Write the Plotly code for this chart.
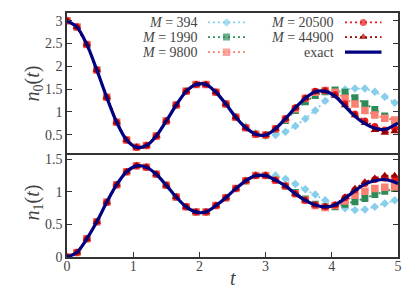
import plotly.graph_objects as go

# ---------------- data ----------------
t_pts = [0.0, 0.15, 0.3, 0.45, 0.6, 0.75, 0.9, 1.05, 1.2, 1.35, 1.5, 1.65, 1.8, 1.95,
         2.1, 2.25, 2.4, 2.55, 2.7, 2.85, 3.0, 3.15, 3.3, 3.45, 3.6, 3.75, 3.9, 4.05,
         4.2, 4.35, 4.5, 4.65, 4.8, 4.95]
t_exact = [0.0, 0.15, 0.3, 0.45, 0.6, 0.75, 0.9, 1.05, 1.2, 1.35, 1.5, 1.65, 1.8, 1.95,
           2.1, 2.25, 2.4, 2.55, 2.7, 2.85, 3.0, 3.15, 3.3, 3.45, 3.6, 3.75, 3.9, 4.05,
           4.2, 4.35, 4.5, 4.65, 4.8, 4.95, 5.0]

n0_exact = [3.00, 2.86, 2.48, 1.92, 1.32, 0.77, 0.38, 0.22, 0.26, 0.47, 0.80, 1.15, 1.45, 1.60,
            1.60, 1.43, 1.17, 0.88, 0.65, 0.51, 0.49, 0.63, 0.85, 1.09, 1.30, 1.44, 1.45, 1.34,
            1.12, 0.90, 0.74, 0.64, 0.61, 0.71, 0.75]
n1_exact = [0.00, 0.07, 0.28, 0.54, 0.84, 1.11, 1.31, 1.40, 1.38, 1.27, 1.10, 0.92, 0.77, 0.69,
            0.69, 0.79, 0.91, 1.05, 1.17, 1.25, 1.25, 1.18, 1.09, 0.97, 0.87, 0.80, 0.77, 0.80,
            0.90, 1.02, 1.12, 1.17, 1.19, 1.15, 1.13]

n0_M394 = [3.00, 2.86, 2.48, 1.92, 1.32, 0.77, 0.38, 0.22, 0.26, 0.47, 0.80, 1.15, 1.45, 1.60,
           1.60, 1.43, 1.17, 0.89, 0.68, 0.53, 0.47, 0.49, 0.56, 0.69, 0.85, 1.03, 1.24, 1.40,
           1.49, 1.51, 1.51, 1.44, 1.33, 1.20]
n0_M1990 = [3.00, 2.86, 2.48, 1.92, 1.32, 0.77, 0.38, 0.22, 0.26, 0.47, 0.80, 1.15, 1.45, 1.60,
            1.60, 1.43, 1.17, 0.88, 0.65, 0.51, 0.49, 0.62, 0.81, 1.03, 1.22, 1.36, 1.44, 1.48,
            1.43, 1.31, 1.18, 1.05, 0.91, 0.80]
n0_M9800 = [3.00, 2.86, 2.48, 1.92, 1.32, 0.77, 0.38, 0.22, 0.26, 0.47, 0.80, 1.15, 1.45, 1.60,
            1.60, 1.43, 1.17, 0.88, 0.65, 0.51, 0.49, 0.63, 0.84, 1.07, 1.30, 1.43, 1.47, 1.43,
            1.30, 1.17, 1.03, 0.93, 0.86, 0.82]
n0_M20500 = [3.00, 2.86, 2.48, 1.92, 1.32, 0.77, 0.38, 0.22, 0.26, 0.47, 0.80, 1.15, 1.45, 1.60,
             1.60, 1.43, 1.17, 0.88, 0.65, 0.51, 0.49, 0.63, 0.85, 1.09, 1.30, 1.45, 1.47, 1.38,
             1.18, 0.95, 0.80, 0.68, 0.60, 0.64]
n0_M44900 = [3.00, 2.86, 2.48, 1.92, 1.32, 0.77, 0.38, 0.22, 0.26, 0.47, 0.80, 1.15, 1.45, 1.60,
             1.60, 1.43, 1.17, 0.88, 0.65, 0.51, 0.49, 0.63, 0.85, 1.09, 1.30, 1.44, 1.45, 1.35,
             1.14, 0.92, 0.75, 0.60, 0.54, 0.57]

n1_M394 = [0.00, 0.07, 0.28, 0.54, 0.84, 1.11, 1.31, 1.40, 1.38, 1.27, 1.10, 0.92, 0.77, 0.69,
           0.69, 0.79, 0.91, 1.05, 1.17, 1.26, 1.26, 1.25, 1.20, 1.12, 1.04, 0.96, 0.87, 0.79,
           0.75, 0.72, 0.73, 0.77, 0.82, 0.87]
n1_M1990 = [0.00, 0.07, 0.28, 0.54, 0.84, 1.11, 1.31, 1.40, 1.38, 1.27, 1.10, 0.92, 0.77, 0.69,
            0.69, 0.79, 0.91, 1.05, 1.17, 1.25, 1.25, 1.18, 1.09, 0.99, 0.89, 0.81, 0.77, 0.77,
            0.81, 0.85, 0.90, 0.96, 1.01, 1.05]
n1_M9800 = [0.00, 0.07, 0.28, 0.54, 0.84, 1.11, 1.31, 1.40, 1.38, 1.27, 1.10, 0.92, 0.77, 0.69,
            0.69, 0.79, 0.91, 1.05, 1.17, 1.25, 1.25, 1.18, 1.09, 0.97, 0.87, 0.79, 0.76, 0.79,
            0.86, 0.95, 1.01, 1.05, 1.07, 1.08]
n1_M20500 = [0.00, 0.07, 0.28, 0.54, 0.84, 1.11, 1.31, 1.40, 1.38, 1.27, 1.10, 0.92, 0.77, 0.69,
             0.69, 0.79, 0.91, 1.05, 1.17, 1.25, 1.25, 1.18, 1.09, 0.97, 0.87, 0.80, 0.77, 0.80,
             0.91, 1.03, 1.13, 1.19, 1.21, 1.19]
n1_M44900 = [0.00, 0.07, 0.28, 0.54, 0.84, 1.11, 1.31, 1.40, 1.38, 1.27, 1.10, 0.92, 0.77, 0.69,
             0.69, 0.79, 0.91, 1.05, 1.17, 1.25, 1.25, 1.18, 1.09, 0.97, 0.87, 0.80, 0.77, 0.80,
             0.92, 1.05, 1.15, 1.21, 1.25, 1.25]

M_labels = ["394", "1990", "9800", "20500", "44900"]
y_ticks_top = [0.5, 1, 1.5, 2, 2.5, 3]
y_ticks_bottom = [0, 0.5, 1, 1.5]
x_ticks = [0, 1, 2, 3, 4, 5]

# ---------------- styles ----------------
W, H = 415, 291
ML, MR, MT, MB = 59, 25, 3, 42
PW, PH = W - ML - MR, H - MT - MB
FONT = "Liberation Serif, DejaVu Serif, serif"
AX = "#333333"
TXT = "#444444"
colors = ["#87CEEB", "#2E8B57", "#FA8072", "#E8191C", "#A00000"]
symbols = ["diamond", "square", "square", "circle", "triangle-up"]
msizes = [6.5, 7, 7.5, 7, 7.5]
NAVY = "#000080"
split = 0.427


def px_x(px):
    return (px - ML) / PW


def px_y(py):
    return (H - MB - py) / PH


series_top = [n0_M394, n0_M1990, n0_M9800, n0_M20500, n0_M44900]
series_bot = [n1_M394, n1_M1990, n1_M9800, n1_M20500, n1_M44900]

fig = go.Figure()
for lab, c, s, ms, a0, a1 in zip(M_labels, colors, symbols, msizes, series_top, series_bot):
    for ys, xa, ya in ((a0, "x", "y"), (a1, "x2", "y2")):
        fig.add_trace(go.Scatter(
            x=t_pts, y=ys, xaxis=xa, yaxis=ya, mode="lines+markers",
            name="M = " + lab, showlegend=False,
            line=dict(color=c, width=1.8, dash="2px,3px"),
            marker=dict(symbol=s, size=ms, color=c, line=dict(width=0)),
        ))
for ys, xa, ya in ((n0_exact, "x", "y"), (n1_exact, "x2", "y2")):
    fig.add_trace(go.Scatter(
        x=t_exact, y=ys, xaxis=xa, yaxis=ya, mode="lines", name="exact",
        showlegend=False, line=dict(color=NAVY, width=3.2, shape="spline", smoothing=0.8),
    ))

# ---------- legend (gnuplot style: text right, sample left) on pixel overlay axes ----------
top_px = MT
bot_px = MT + PH * (1 - split)
rows = [12.5, 27.3, 42.5]
cols = [(191.5, 200, 237), (327.5, 337, 373.5)]
entries = [(f"<i>M</i> = {lab}", colors[i], symbols[i], msizes[i]) for i, lab in enumerate(M_labels)]
entries.append(("exact", NAVY, None, 0))
order = [(0, 0), (0, 1), (0, 2), (1, 0), (1, 1), (1, 2)]
annotations = []
for (ci, ri), (txt, c, s, ms) in zip(order, entries):
    xt, x0, x1 = cols[ci]
    y = rows[ri]
    annotations.append(dict(x=xt, y=y, xref="x3", yref="y3", text=txt, showarrow=False,
                            xanchor="right", yanchor="middle",
                            font=dict(family=FONT, size=14, color=TXT)))
    if s is None:
        fig.add_trace(go.Scatter(x=[x0, x1], y=[y, y], xaxis="x3", yaxis="y3", mode="lines",
                                 showlegend=False, hoverinfo="skip",
                                 line=dict(color=c, width=3.2)))
    else:
        fig.add_trace(go.Scatter(x=[x0, (x0 + x1) / 2, x1], y=[y, y, y], xaxis="x3", yaxis="y3",
                                 mode="lines+markers", showlegend=False, hoverinfo="skip",
                                 line=dict(color=c, width=1.8, dash="2px,3px"),
                                 marker=dict(symbol=s, size=[0, ms, 0], color=c, line=dict(width=0))))

# axis titles as annotations for exact placement
title_font = dict(family=FONT, size=20, color=TXT)
annotations.append(dict(text="<i>n</i><sub>0</sub>(<i>t</i>)", xref="paper", yref="paper",
                        x=px_x(25), y=px_y(74), textangle=-90, showarrow=False,
                        xanchor="center", yanchor="middle", font=title_font))
annotations.append(dict(text="<i>n</i><sub>1</sub>(<i>t</i>)", xref="paper", yref="paper",
                        x=px_x(25), y=px_y(194), textangle=-90, showarrow=False,
                        xanchor="center", yanchor="middle", font=title_font))
annotations.append(dict(text="<i>t</i>", xref="paper", yref="paper",
                        x=px_x(225), y=px_y(270), showarrow=False,
                        xanchor="center", yanchor="middle", font=title_font))

axis_common = dict(showline=True, linecolor=AX, linewidth=1.5, showgrid=False, zeroline=False,
                   tickfont=dict(family=FONT, size=14, color=TXT))

fig.update_layout(
    width=W, height=H, margin=dict(l=ML, r=MR, t=MT, b=MB),
    paper_bgcolor="white", plot_bgcolor="white", showlegend=False,
    font=dict(family=FONT, color=TXT),
    xaxis=dict(domain=[0, 1], anchor="y", range=[0, 5], showticklabels=False, ticks="",
               mirror=True, matches="x2", **axis_common),
    yaxis=dict(domain=[split, 1], anchor="x", range=[0.1, 3.17], tickvals=y_ticks_top,
               ticks="inside", ticklen=5, tickcolor=AX, mirror="ticks", **axis_common),
    xaxis2=dict(domain=[0, 1], anchor="y2", range=[0, 5], tickvals=x_ticks, ticks="inside",
                ticklen=5, tickcolor=AX, mirror=False, ticklabelstandoff=-5, **axis_common),
    yaxis2=dict(domain=[0, split], anchor="x2", range=[0, 1.6], tickvals=y_ticks_bottom,
                ticks="inside", ticklen=5, tickcolor=AX, mirror="ticks", **axis_common),
    xaxis3=dict(overlaying="x", range=[ML, W - MR], visible=False, fixedrange=True),
    yaxis3=dict(overlaying="y", range=[bot_px, top_px], visible=False, fixedrange=True),
    annotations=annotations,
)

fig.write_html("out.html")
